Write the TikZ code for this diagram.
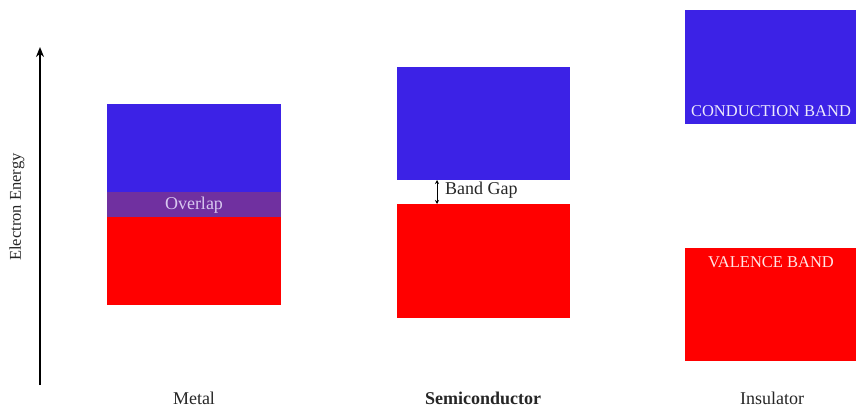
\documentclass[tikz,border=0pt]{standalone}
\usepackage{fontspec}
\setmainfont{Liberation Serif}
\usetikzlibrary{arrows.meta}
\definecolor{cband}{HTML}{3C22E6}
\definecolor{vband}{HTML}{FF0000}
\definecolor{ovband}{HTML}{7030A0}
\definecolor{ovtext}{HTML}{D8C8F0}
\tikzset{
  lbl/.style={font=\fontsize{18}{20}\selectfont, text=black!85, inner sep=0pt},
  matlbl/.style={lbl, anchor=base, text depth=0pt},
  bandlbl/.style={font=\fontsize{16.5}{18}\selectfont, text=white!90!cband, inner sep=0pt},
}
\begin{document}
\begin{tikzpicture}[x=1pt, y=-1pt]
  \useasboundingbox (0,0) rectangle (856,408);

  % energy axis
  \coordinate (axb) at (40,385);
  \coordinate (axt) at (40,47);
  \draw[line width=2.4pt, -{Stealth[length=10pt, width=8pt]}] (axb) -- (axt);
  \node[lbl, font=\fontsize{16.5}{18}\selectfont, rotate=90] (elabel) at (17,207) {Electron Energy};

  % metal: overlapping bands
  \fill[cband] (107,104) rectangle (281,192);
  \fill[ovband] (107,192) rectangle (281,217);
  \fill[vband] (107,217) rectangle (281,305);
  \node[lbl, text=ovtext] (overlap) at (194,205) {Overlap};
  \node[matlbl] (metal) at (194,404) {Metal};

  % semiconductor: small gap
  \fill[cband] (397,67) rectangle (570,180);
  \fill[vband] (397,204) rectangle (570,318);
  \coordinate (gtop) at (437,180);
  \coordinate (gbot) at (437,204);
  \draw[line width=0.8pt, {Stealth[length=4pt,width=4pt]}-{Stealth[length=4pt,width=4pt]}] (gtop) -- (gbot);
  \node[lbl, anchor=west] (gap) at (445,190) {Band Gap};
  \node[matlbl, font=\fontsize{18}{20}\selectfont\bfseries] (semi) at (483,404) {Semiconductor};

  % insulator: wide gap
  \fill[cband] (685,10) rectangle (856,124);
  \fill[vband] (685,248) rectangle (856,361);
  \node[bandlbl] (cond) at (771,111) {CONDUCTION BAND};
  \node[bandlbl, text=white!90!vband] (val) at (771,262) {VALENCE BAND};
  \node[matlbl] (ins) at (772,404) {Insulator};
\end{tikzpicture}
\end{document}
